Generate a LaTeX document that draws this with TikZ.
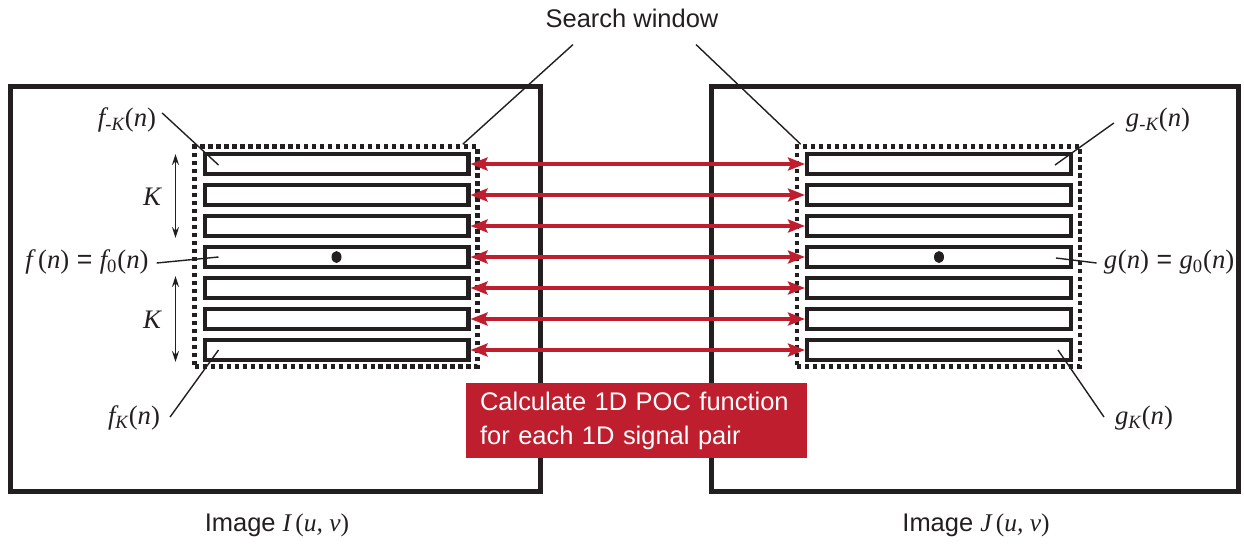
\documentclass[tikz,border=0pt]{standalone}
\usepackage{fontspec}
\setmainfont{Liberation Sans}
\newfontfamily\serifit{Liberation Serif}
\usetikzlibrary{arrows.meta,calc}
\definecolor{PocRed}{RGB}{190,30,45}
\definecolor{InkBlack}{RGB}{35,31,32}
\newcommand{\signame}[3]{{\serifit\itshape #1\textsubscript{#2}\upshape(\itshape #3\upshape)}}

\begin{document}
\begin{tikzpicture}[
      x=0.02cm,y=-0.02cm,InkBlack,
      every node/.style={font=\fontsize{14.5}{19.3}\selectfont},
      imgFrame/.style={draw,line width=2.6pt,minimum height=8.1cm,inner sep=0pt},
      stripBox/.style={draw,line width=2.3pt,fill=white,
                       minimum width=5.28cm,minimum height=0.4cm,inner sep=0pt},
      searchWin/.style={draw,line width=2.6pt,dash pattern=on 0.085cm off 0.075cm,
                        minimum width=5.66cm,minimum height=4.4cm,inner sep=0pt},
      sigLabel/.style={inner sep=1pt,font=\fontsize{15.2}{19}\selectfont},
      leader/.style={line width=0.8pt},
      arPair/.style={{Stealth[length=0.34cm,width=0.26cm,inset=0.06cm]}-{Stealth[length=0.34cm,width=0.26cm,inset=0.06cm]},
                     line width=1.9pt,PocRed},
      arK/.style={{Stealth[length=0.22cm,width=0.14cm]}-{Stealth[length=0.22cm,width=0.14cm]},
                  line width=0.9pt}
    ]
    \useasboundingbox (0,0) rectangle (1244,545);

    % Image frames
    \node(imgI)[imgFrame,minimum width=10.6cm] at (275.5,289) {};
    \node(imgJ)[imgFrame,minimum width=10.54cm] at (975,289) {};
    \node(capI) at (277,525) {Image {\serifit\itshape I\upshape\,(\itshape u, v\upshape)}};
    \node(capJ) at (976,525) {Image {\serifit\itshape J\upshape\,(\itshape u, v\upshape)}};

    % Search windows and 1D signal strips
    \node(winL)[searchWin] at (336,256.5) {};
    \node(winR)[searchWin] at (938.5,256.5) {};
    \foreach \i/\yy in {1/164,2/195,3/226,4/257,5/288,6/319,7/350}{
      \node(fl\i)[stripBox] at (336.5,\yy) {};
      \node(gr\i)[stripBox] at (939,\yy) {};
    }
    \fill (fl4.center) ellipse [x radius=0.1cm,y radius=0.12cm];
    \fill (gr4.center) ellipse [x radius=0.1cm,y radius=0.12cm];

    % Search window label
    \node(sw) at (632,18) {Search window};
    \draw[leader] ($(sw.south)+(-59,11)$) -- ($(winL.north east)+(-17,0)$);
    \draw[leader] ($(sw.south)+(64,11)$) -- ($(winR.north west)+(6,0)$);

    % K spans
    \draw[arK] ($(fl1.north west)+(-27,2)$) -- ($(fl3.south west)+(-27,0)$);
    \draw[arK] ($(fl5.north west)+(-27,0)$) -- ($(fl7.south west)+(-27,0)$);
    \node(kUp)[sigLabel] at (152,197) {\serifit\itshape K};
    \node(kDn)[sigLabel] at (152,320) {\serifit\itshape K};

    % Signal labels, image I
    \node(fmk)[sigLabel] at (127,120) {\signame{f}{-K}{n}};
    \node(fzero)[sigLabel] at (87,262) {\signame{f\,}{}{n} = \signame{f}{\upshape 0}{n}};
    \node(fpk)[sigLabel] at (134,418) {\signame{f}{K}{n}};
    \draw[leader] ($(fmk.east)+(4,-7)$) -- ($(fl1.west)+(16,1)$);
    \draw[leader] ($(fzero.east)+(6,1)$) -- ($(fl4.west)+(16,0)$);
    \draw[leader] ($(fpk.east)+(8,-1)$) -- ($(fl7.west)+(16,0)$);

    % Signal labels, image J
    \node(gmk)[sigLabel] at (1158,120) {\signame{g}{-K}{n}};
    \node(gzero)[sigLabel] at (1169,262) {\signame{g}{}{n} = \signame{g}{\upshape 0}{n}};
    \node(gpk)[sigLabel] at (1144,418) {\signame{g}{K}{n}};
    \draw[leader] ($(gmk.west)+(-10,3)$) -- ($(gr1.east)+(-18,1)$);
    \draw[leader] ($(gzero.west)+(-5,1)$) -- ($(gr4.east)+(-17,1)$);
    \draw[leader] ($(gpk.west)+(-9,-1)$) -- ($(gr7.east)+(-15,0)$);

    % 1D signal pairs
    \foreach \i in {1,...,7}
      \draw[arPair] (fl\i) -- (gr\i);

    % POC note
    \node(poc)[fill=PocRed,text=white,align=left,inner xsep=0.28cm,
               text width=6.26cm,minimum height=1.5cm] at (636.5,420.5)
      {Calculate 1D POC function\\for each 1D signal pair};
  \end{tikzpicture}
\end{document}
